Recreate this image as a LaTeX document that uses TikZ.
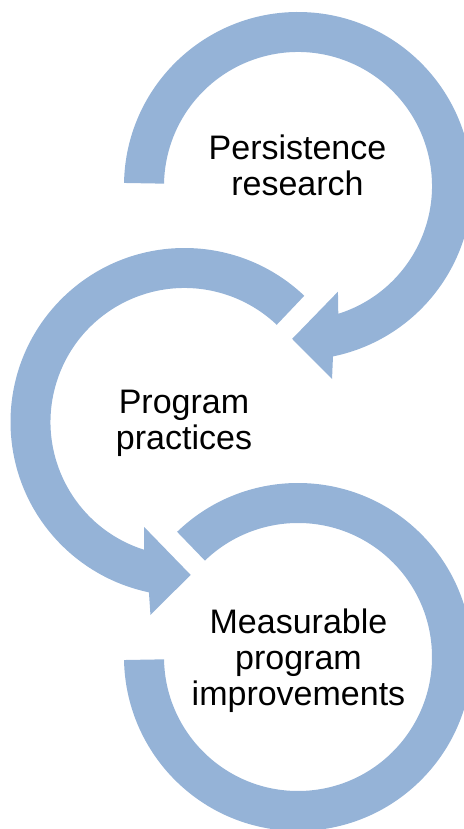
\documentclass[tikz,border=0pt]{standalone}
\usepackage{fontspec}
\setmainfont{Liberation Sans}
\definecolor{ringblue}{HTML}{95B3D7}
\tikzstyle{ring}=[fill=ringblue]
\tikzstyle{lbl}=[align=center,inner sep=0pt,font=\fontsize{25.5}{27}\selectfont]

\begin{document}
\begin{tikzpicture}[x=0.75pt,y=0.75pt]
\useasboundingbox (0,0) rectangle (464,829);
\coordinate (c1) at (298,643); \coordinate (c2) at (184.5,407); \coordinate (c3) at (298,172);
\fill[ring,shift={(c1)}] (179:174) arc[start angle=179,end angle=-78.4,radius=174] -- (-80:196) -- (-92.2:153) -- (-69.3:113) -- (-72.5:134) arc[start angle=-72.5,end angle=179,radius=134] -- cycle;
\fill[ring,shift={(c2)}] (46.5:174) arc[start angle=46.5,end angle=258.2,radius=174] -- (260:196) -- (272.3:153) -- (249:112.5) -- (252.5:134) arc[start angle=252.5,end angle=46.5,radius=134] -- cycle;
\fill[ring,shift={(c3)}] (134:174) arc[start angle=134,end angle=-179,radius=174] -- (-179:134) arc[start angle=-179,end angle=134,radius=134] -- cycle;
\node[lbl] (research) at (297.5,664) {Persistence\\research};
\node[lbl] (practices) at (184,406) {Program\\practices};
\node[lbl] (improvements) at (298.5,168) {Measurable\\program\\improvements};
\end{tikzpicture}
\end{document}
